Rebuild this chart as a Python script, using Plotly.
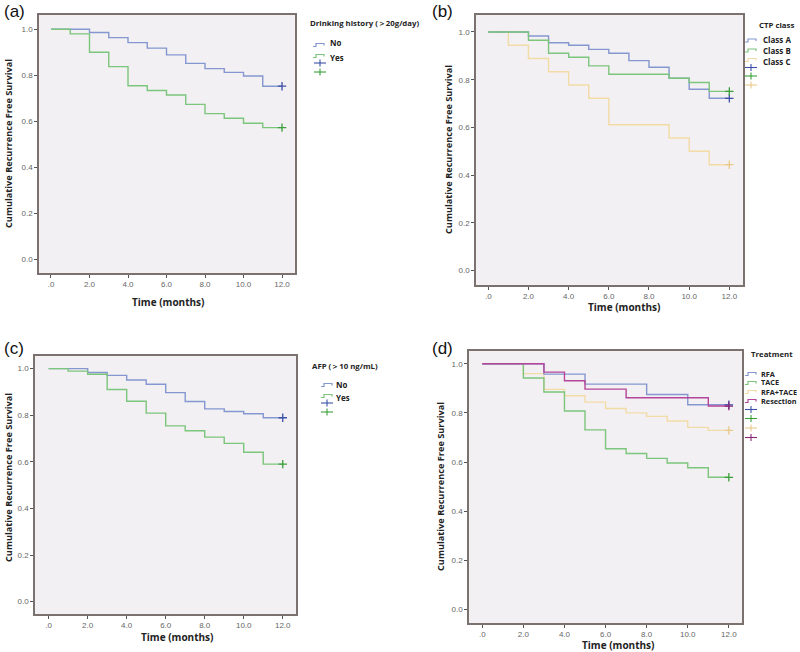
import plotly.graph_objects as go

W, H = 800, 652

# ---------------- data ----------------
months = [0, 1, 2, 3, 4, 5, 6, 7, 8, 9, 10, 11, 12]

# (a) Drinking history
a_no = [1.0, 1.0, 0.986, 0.964, 0.942, 0.918, 0.889, 0.852, 0.829, 0.813, 0.797, 0.753, 0.753]
a_yes = [1.0, 0.980, 0.900, 0.838, 0.755, 0.734, 0.715, 0.674, 0.634, 0.614, 0.592, 0.573, 0.573]

# (b) CTP class
b_A = [1.0, 1.0, 0.983, 0.955, 0.944, 0.927, 0.911, 0.880, 0.852, 0.806, 0.760, 0.722, 0.722]
b_B = [1.0, 1.0, 0.965, 0.911, 0.894, 0.858, 0.823, 0.823, 0.823, 0.806, 0.788, 0.751, 0.751]
b_C = [1.0, 0.944, 0.889, 0.833, 0.778, 0.722, 0.611, 0.611, 0.611, 0.556, 0.500, 0.444, 0.444]

# (c) AFP
c_no = [1.0, 1.0, 0.983, 0.971, 0.951, 0.933, 0.897, 0.859, 0.827, 0.816, 0.806, 0.789, 0.789]
c_yes = [1.0, 0.989, 0.976, 0.910, 0.860, 0.809, 0.754, 0.733, 0.706, 0.679, 0.641, 0.590, 0.590]

# (d) Treatment
d_rfa = [1.0, 1.0, 1.0, 0.958, 0.958, 0.917, 0.917, 0.917, 0.875, 0.875, 0.833, 0.833, 0.833]
d_tace = [1.0, 1.0, 0.942, 0.885, 0.808, 0.731, 0.654, 0.635, 0.615, 0.596, 0.577, 0.538, 0.538]
d_rfatace = [1.0, 1.0, 0.960, 0.896, 0.870, 0.844, 0.818, 0.800, 0.786, 0.767, 0.741, 0.729, 0.729]
d_resect = [1.0, 1.0, 1.0, 0.966, 0.931, 0.897, 0.897, 0.862, 0.862, 0.862, 0.862, 0.828, 0.828]

x_tickvals = [0, 2, 4, 6, 8, 10, 12]
x_ticktext = [".0", "2.0", "4.0", "6.0", "8.0", "10.0", "12.0"]
y_tickvals = [0, 0.2, 0.4, 0.6, 0.8, 1.0]
y_ticktext = ["0.0", "0.2", "0.4", "0.6", "0.8", "1.0"]

# ---------------- styles ----------------
BLUE, BLUE_D = "#8497d0", "#3c50a8"
GREEN, GREEN_D = "#7cc57c", "#3a9e3a"
YELLOW, YELLOW_D = "#f3dba6", "#e9c98a"
MAGENTA, MAGENTA_D = "#b5459a", "#8a2676"
BG = "#f2f0f2"
FRAME = "#7b7270"
FONT = "Open Sans"


def px(x):
    return x / W


def py(y):
    return 1 - y / H


panels = {
    "a": ((39, 295, 15, 273), [-0.623, 12.675], [-0.058, 1.062]),
    "b": ((476, 743, 15, 285), [-0.612, 12.68], [-0.060, 1.071]),
    "c": ((35, 296, 356, 614), [-0.70, 12.68], [-0.053, 1.054]),
    "d": ((469, 742, 351, 623), [-0.646, 12.64], [-0.055, 1.052]),
}

fig = go.Figure()
layout = dict(
    width=W, height=H, margin=dict(l=0, r=0, t=0, b=0),
    paper_bgcolor="white", plot_bgcolor=BG, showlegend=False,
    font=dict(family=FONT),
)
axis_ids = {"a": "", "b": "2", "c": "3", "d": "4"}
for name, ((x0, x1, yt, yb), xr, yr) in panels.items():
    i = axis_ids[name]
    common = dict(showline=True, linecolor=FRAME, linewidth=1.6, mirror=True,
                  showgrid=False, zeroline=False, ticks="outside", ticklen=3,
                  tickcolor="#555", tickwidth=1,
                  tickfont=dict(size=8, color="#666", family="Liberation Sans"))
    layout["xaxis" + i] = dict(domain=[px(x0), px(x1)], range=xr, anchor="y" + i,
                               tickvals=x_tickvals, ticktext=x_ticktext, **common)
    layout["yaxis" + i] = dict(domain=[py(yb), py(yt)], range=yr, anchor="x" + i,
                               tickvals=y_tickvals, ticktext=y_ticktext, **common)
fig.update_layout(**layout)


def add_curve(panel, y, color, dcolor):
    i = axis_ids[panel]
    fig.add_trace(go.Scatter(x=months, y=y, mode="lines", line=dict(color=color, width=1.4, shape="hv"),
                             xaxis="x" + i, yaxis="y" + i, hoverinfo="skip"))
    fig.add_trace(go.Scatter(x=[months[-1]], y=[y[-1]], mode="markers",
                             marker=dict(symbol="cross-thin", size=6, line=dict(color=dcolor, width=1.3)),
                             xaxis="x" + i, yaxis="y" + i, hoverinfo="skip"))


add_curve("a", a_no, BLUE, BLUE_D)
add_curve("a", a_yes, GREEN, GREEN_D)
add_curve("b", b_C, YELLOW, YELLOW_D)
add_curve("b", b_A, BLUE, BLUE_D)
add_curve("b", b_B, GREEN, GREEN_D)
add_curve("c", c_no, BLUE, BLUE_D)
add_curve("c", c_yes, GREEN, GREEN_D)
add_curve("d", d_rfatace, YELLOW, YELLOW_D)
add_curve("d", d_tace, GREEN, GREEN_D)
add_curve("d", d_rfa, BLUE, BLUE_D)
add_curve("d", d_resect, MAGENTA, MAGENTA_D)

annotations = []
shapes = []


def text(x, y, s, size=8.0, bold=True, color="#222", xanchor="left", angle=0, family=FONT, height=None):
    ann = dict(x=px(x), y=py(y), xref="paper", yref="paper", text=("<b>%s</b>" % s) if bold else s,
               showarrow=False, xanchor=xanchor, yanchor="middle", textangle=angle,
               borderpad=0, font=dict(size=size, color=color, family=family))
    if height:
        ann["height"] = height
    annotations.append(ann)


def step_glyph(x0, y, color):
    path = "M %f,%f L %f,%f L %f,%f L %f,%f L %f,%f" % (
        px(x0), py(y + 1.5), px(x0 + 3), py(y + 1.5), px(x0 + 3), py(y - 1.5),
        px(x0 + 11), py(y - 1.5), px(x0 + 11), py(y + 0.5))
    shapes.append(dict(type="path", path=path, xref="paper", yref="paper",
                       line=dict(color=color, width=1.2)))


def cross_glyph(xc, y, color):
    shapes.append(dict(type="line", xref="paper", yref="paper", x0=px(xc - 6), x1=px(xc + 6), y0=py(y), y1=py(y),
                       line=dict(color=color, width=1.1)))
    shapes.append(dict(type="line", xref="paper", yref="paper", x0=px(xc), x1=px(xc), y0=py(y - 3.5), y1=py(y + 3.5),
                       line=dict(color=color, width=1.1)))


# panel labels
for lab, (x, y) in {"(a)": (3, 11), "(b)": (431, 11), "(c)": (3, 348), "(d)": (431, 348)}.items():
    text(x, y, lab, size=17, bold=False, color="#111", family="Liberation Sans")

# axis titles
ytitle = "Cumulative Recurrence Free Survival"
text(8, 144, ytitle, size=9.2, xanchor="center", angle=-90)
text(448, 150, ytitle, size=9.2, xanchor="center", angle=-90)
text(8, 478, ytitle, size=9.2, xanchor="center", angle=-90)
text(440, 487, ytitle, size=9.2, xanchor="center", angle=-90)
text(168, 302, "Time (months)", size=10, xanchor="center")
text(624, 307, "Time (months)", size=10, xanchor="center")
text(177, 637, "Time (months)", size=10, xanchor="center")
text(618, 644.5, "Time (months)", size=10, xanchor="center")

# legend (a)
text(309, 23, "Drinking history (＞20g/day)", size=7.8)
step_glyph(313, 45, BLUE); text(329, 43, "No", height=9)
step_glyph(313, 56, GREEN); text(329, 57, "Yes", height=9)
cross_glyph(320, 63, BLUE_D)
cross_glyph(320, 72, GREEN_D)

# legend (b)
text(758, 25, "CTP class", size=7.8)
step_glyph(745, 40.5, BLUE); text(762, 39.5, "Class A", height=9)
step_glyph(745, 50.5, GREEN); text(762, 51, "Class B", height=9)
step_glyph(745, 60, YELLOW); text(762, 61, "Class C", height=9)
cross_glyph(751, 67.5, BLUE_D)
cross_glyph(751, 76, GREEN_D)
cross_glyph(751, 85, YELLOW_D)

# legend (c)
text(311, 366, "AFP (＞10 ng/mL)", size=7.8)
step_glyph(321, 385, BLUE); text(335, 384, "No", height=9)
step_glyph(321, 396, GREEN); text(335, 397, "Yes", height=9)
cross_glyph(327, 403, BLUE_D)
cross_glyph(327, 412, GREEN_D)

# legend (d)
text(750, 354, "Treatment", size=7.8)
step_glyph(745, 374, BLUE); text(760, 373.5, "RFA", size=7.3, height=8)
step_glyph(745, 383, GREEN); text(760, 382, "TACE", size=7.3, height=8)
step_glyph(745, 392, YELLOW); text(760, 391.5, "RFA+TACE", size=7.3, height=8)
step_glyph(745, 401, MAGENTA); text(760, 401, "Resection", size=7.3, height=8)
cross_glyph(751, 409.5, BLUE_D)
cross_glyph(751, 418.5, GREEN_D)
cross_glyph(751, 428, YELLOW_D)
cross_glyph(751, 437.5, MAGENTA_D)

fig.update_layout(annotations=annotations, shapes=shapes)
fig.write_html("out.html", config={"displayModeBar": False},
               post_script="document.body.style.margin='0';document.body.style.overflow='hidden';")
